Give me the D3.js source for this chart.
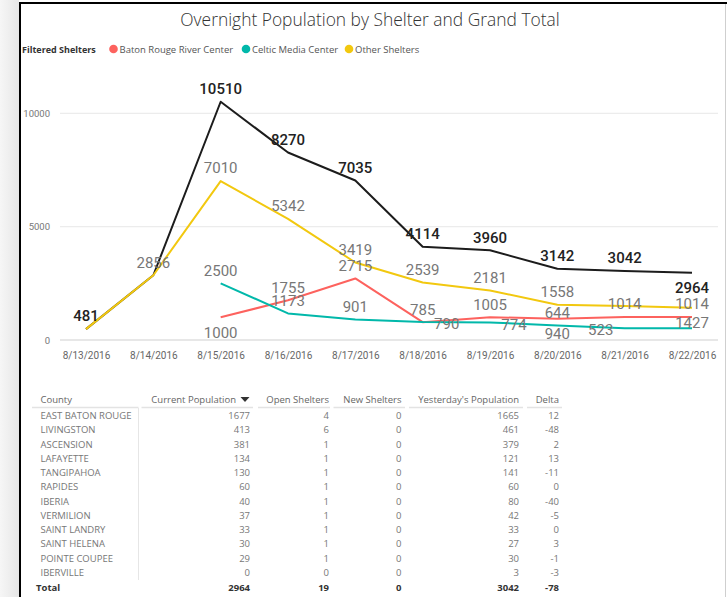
<!DOCTYPE html>
<html>
<head>
<meta charset="utf-8">
<script src="https://cdn.jsdelivr.net/npm/d3@7"></script>
<style>
  html, body { margin: 0; padding: 0; background: #fff; }
  svg { display: block; }
</style>
</head>
<body>
<script>
// ---------- DATA ----------
const dates = ["8/13/2016","8/14/2016","8/15/2016","8/16/2016","8/17/2016","8/18/2016","8/19/2016","8/20/2016","8/21/2016","8/22/2016"];
const grandTotal    = [481, 2856, 10510, 8270, 7035, 4114, 3960, 3142, 3042, 2964];
const otherShelters = [481, 2856, 7010, 5342, 3419, 2539, 2181, 1558, 1505, 1427];
const batonRouge    = [null, null, 1000, 1755, 2715, 785, 1005, 940, 1014, 1014];
const celticMedia   = [null, null, 2500, 1173, 901, 790, 774, 644, 523, 523];
const yTicks = [0, 5000, 10000];
const legendNames = ["Baton Rouge River Center", "Celtic Media Center", "Other Shelters"];

const counties     = ["EAST BATON ROUGE","LIVINGSTON","ASCENSION","LAFAYETTE","TANGIPAHOA","RAPIDES","IBERIA","VERMILION","SAINT LANDRY","SAINT HELENA","POINTE COUPEE","IBERVILLE"];
const currentPop   = [1677, 413, 381, 134, 130, 60, 40, 37, 33, 30, 29, 0];
const openShelters = [4, 6, 1, 1, 1, 1, 1, 1, 1, 1, 1, 0];
const newShelters  = [0, 0, 0, 0, 0, 0, 0, 0, 0, 0, 0, 0];
const yesterdayPop = [1665, 461, 379, 121, 141, 60, 80, 42, 33, 27, 30, 3];
const deltaPop     = [12, -48, 2, 13, -11, 0, -40, -5, 0, 3, -1, -3];
const tableHeaders = ["County", "Current Population", "Open Shelters", "New Shelters", "Yesterday's Population", "Delta"];

// label placement per series (index -> side); missing index = hidden label
const labelSides = {
  total:  {0:"above",2:"above",3:"above",4:"above",5:"above",6:"above",7:"above",8:"above",9:"below"},
  other:  {1:"above",2:"above",3:"above",4:"above",5:"above",6:"above",7:"above",9:"below"},
  baton:  {2:"below",3:"above",4:"above",5:"above",6:"above",7:"below",8:"above",9:"above"},
  celtic: {2:"above",3:"above",4:"above",5:"right",6:"right",7:"above",8:"left"}
};

// ---------- SETUP ----------
const W = 727, H = 597;
const svg = d3.select("body").append("svg").attr("width", W).attr("height", H);

const defs = svg.append("defs");
const grad = defs.append("linearGradient").attr("id", "shadow").attr("x1", 0).attr("x2", 1);
grad.append("stop").attr("offset", 0).attr("stop-color", "#f6f6f6");
grad.append("stop").attr("offset", 1).attr("stop-color", "#e6e6e6");
svg.append("rect").attr("x", 0).attr("y", 0).attr("width", 19).attr("height", H).attr("fill", "url(#shadow)");

// frame
svg.append("line").attr("x1", 19).attr("x2", W).attr("y1", 3).attr("y2", 3).attr("stroke", "#000").attr("stroke-width", 2);
svg.append("line").attr("x1", 20).attr("x2", 20).attr("y1", 2).attr("y2", H).attr("stroke", "#000").attr("stroke-width", 2);
svg.append("line").attr("x1", 725.5).attr("x2", 725.5).attr("y1", 4).attr("y2", H).attr("stroke", "#cfcfcf").attr("stroke-width", 1);

// title
svg.append("text").attr("x", 370).attr("y", 26).attr("text-anchor", "middle")
  .attr("font-family", "'Open Sans', sans-serif").attr("font-weight", 300)
  .attr("font-size", 17.4).attr("fill", "#333")
  .text("Overnight Population by Shelter and Grand Total");

// legend
const colors = { total: "#1c1c1c", baton: "#FD625E", celtic: "#01B8AA", other: "#F2C80F" };
const legendColors = [colors.baton, colors.celtic, colors.other];
const lg = svg.append("g").attr("font-family", "'Open Sans', sans-serif");
lg.append("text").attr("x", 22).attr("y", 52.5).attr("font-size", 9).attr("font-weight", 700).attr("fill", "#333").text("Filtered Shelters");
const legendX = [113.5, 246, 349];
legendNames.forEach((n, i) => {
  lg.append("circle").attr("cx", legendX[i]).attr("cy", 49).attr("r", 4.3).attr("fill", legendColors[i]);
  lg.append("text").attr("x", legendX[i] + 6).attr("y", 52.5).attr("font-size", 9.5).attr("fill", "#555").text(n);
});

// ---------- CHART ----------
const x = d3.scalePoint().domain(dates).range([86, 692]);
const y = d3.scaleLinear().domain([0, 10000]).range([340, 113.3]);

// gridlines
svg.append("g").selectAll("line").data(yTicks).join("line")
  .attr("x1", 60).attr("x2", 718)
  .attr("y1", d => y(d)).attr("y2", d => y(d))
  .attr("stroke", d => d === 0 ? "#d0d0d0" : "#ececec").attr("stroke-width", 1.2);

// y axis
const yAxis = d3.axisLeft(y).tickValues(yTicks).tickSize(0).tickPadding(0).tickFormat(d3.format("d"));
svg.append("g").attr("transform", "translate(50,0)").call(yAxis)
  .call(g => g.select(".domain").remove())
  .call(g => g.selectAll("text").attr("font-family", "Roboto, sans-serif").attr("font-size", 9.5).attr("fill", "#777"));

// x axis
const xAxis = d3.axisBottom(x).tickSize(0).tickPadding(0);
svg.append("g").attr("transform", "translate(0,352)").call(xAxis)
  .call(g => g.select(".domain").remove())
  .call(g => g.selectAll("text").attr("font-family", "Roboto, sans-serif").attr("font-size", 10).attr("fill", "#666"));

const series = [
  { key: "total",  values: grandTotal },
  { key: "baton",  values: batonRouge },
  { key: "celtic", values: celticMedia },
  { key: "other",  values: otherShelters }
];

const line = d3.line()
  .defined(d => d.v !== null)
  .x(d => x(d.date)).y(d => y(d.v));

series.forEach(s => {
  const pts = s.values.map((v, i) => ({ date: dates[i], v }));
  svg.append("path").datum(pts).attr("d", line)
    .attr("fill", "none").attr("stroke", colors[s.key]).attr("stroke-width", 2)
    .attr("stroke-linejoin", "round");
});

// data labels
const labG = svg.append("g").attr("font-family", "Roboto, sans-serif").attr("font-size", 15);
series.forEach(s => {
  const sides = labelSides[s.key];
  s.values.forEach((v, i) => {
    const side = sides[i];
    if (v === null || !side) return;
    let lx = x(dates[i]), ly = y(v);
    if (side === "above") ly -= 13;
    else if (side === "below") ly += 15;
    else if (side === "right") { lx += 24; ly += 2; }
    else if (side === "left") { lx -= 24; ly += 1; }
    labG.append("text").attr("x", lx).attr("y", ly).attr("dy", "0.36em")
      .attr("text-anchor", "middle")
      .attr("fill", s.key === "total" ? "#222" : "#777")
      .attr("font-weight", s.key === "total" ? 500 : 400)
      .text(v);
  });
});

// ---------- TABLE ----------
const tb = svg.append("g").attr("font-family", "'Open Sans', sans-serif").attr("font-size", 9.5);
const colRight = [null, 250, 329, 401.5, 519, 559];
const colSeg = [[32, 138.5], [141.5, 253], [258, 330], [333.5, 405], [409, 523], [527, 562]];
const headerY = 400, rowY0 = 415.7, rowStep = 14.27, totalY = 587.3;

colSeg.forEach(s => {
  tb.append("line").attr("x1", s[0]).attr("x2", s[1]).attr("y1", 407.5).attr("y2", 407.5)
    .attr("stroke", "#e3e3e3").attr("stroke-width", 1.5);
});
tb.append("line").attr("x1", 138.5).attr("x2", 138.5).attr("y1", 408).attr("y2", 580)
  .attr("stroke", "#e6e6e6").attr("stroke-width", 1);

tableHeaders.forEach((h, i) => {
  const t = tb.append("text").attr("y", headerY).attr("dy", "0.35em").attr("fill", "#666").text(h);
  if (i === 0) t.attr("x", 40.5);
  else if (i === 1) t.attr("x", colRight[i] - 14).attr("text-anchor", "end");
  else t.attr("x", colRight[i]).attr("text-anchor", "end");
});
// sort triangle
tb.append("path").attr("d", d3.line()([[240.5, 397], [249.5, 397], [245, 402]])).attr("fill", "#333");

const cols = [currentPop, openShelters, newShelters, yesterdayPop, deltaPop];
counties.forEach((c, r) => {
  const yy = rowY0 + r * rowStep;
  tb.append("text").attr("x", 40.5).attr("y", yy).attr("dy", "0.35em").attr("fill", "#777").text(c);
  cols.forEach((col, ci) => {
    tb.append("text").attr("x", colRight[ci + 1]).attr("y", yy).attr("dy", "0.35em")
      .attr("text-anchor", "end").attr("fill", "#777").text(col[r]);
  });
});
tb.append("text").attr("x", 36).attr("y", totalY).attr("dy", "0.35em").attr("fill", "#333").attr("font-weight", 700).text("Total");
cols.forEach((col, ci) => {
  tb.append("text").attr("x", colRight[ci + 1]).attr("y", totalY).attr("dy", "0.35em")
    .attr("text-anchor", "end").attr("fill", "#333").attr("font-weight", 700).text(d3.sum(col));
});
</script>
</body>
</html>
